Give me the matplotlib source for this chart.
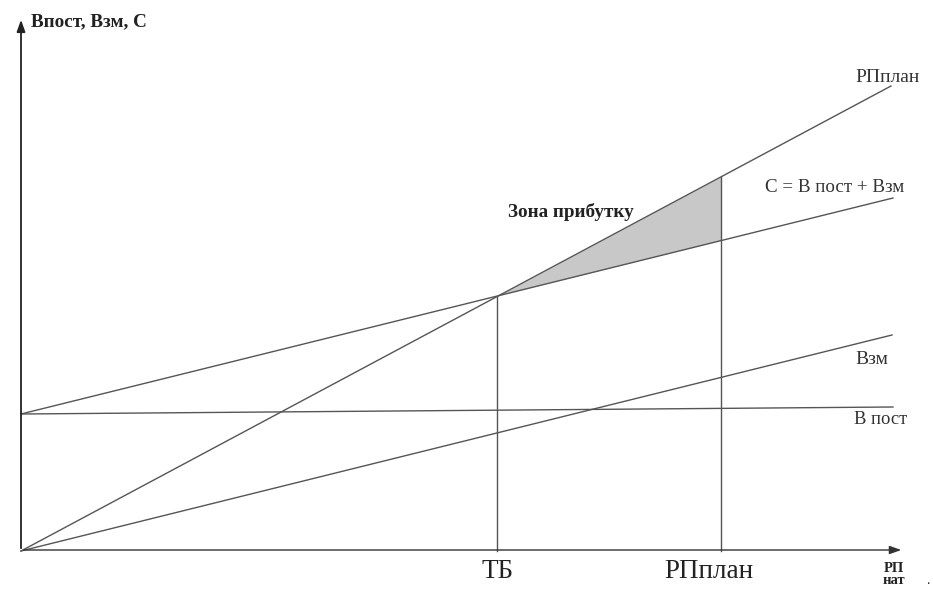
import matplotlib
matplotlib.use("Agg")
import matplotlib.pyplot as plt
import numpy as np

# Break-even chart values (arbitrary units)
x_ends = [0, 870]
revenue = [0, 465]          # РПплан line
fixed_costs = [137, 144]    # В пост
variable_costs = [0, 216]   # Взм
total_costs = [137, 353]    # C = В пост + Взм
q_tb = 476                  # break-even point
q_plan = 700                # planned volume

x_tick_labels = ["ТБ", "РПплан"]

def interp(x, ys):
    return np.interp(x, x_ends, ys)

fig = plt.figure(figsize=(9.33, 5.90), dpi=100)
ax = fig.add_axes([0, 0, 1, 1])
ax.set_xlim(-21, 912)
ax.set_ylim(-39, 551)
ax.axis("off")

lc = "#555555"
lw = 1.0
serif = ["Liberation Serif", "DejaVu Serif"]

# axes with arrows
ax.annotate("", xy=(0, 534), xytext=(0, 0),
            arrowprops=dict(arrowstyle="-|>,head_length=0.7,head_width=0.25", color="#222222", lw=1.3))
ax.annotate("", xy=(883, 1), xytext=(0, 1),
            arrowprops=dict(arrowstyle="-|>,head_length=0.7,head_width=0.25", color="#333333", lw=1.0))

# profit zone
xs = np.array([q_tb, q_plan])
ax.fill_between(xs, interp(xs, total_costs), interp(xs, revenue), color="#c8c8c8", lw=0)

# lines
ax.plot(x_ends, revenue, color=lc, lw=lw)
ax.plot([0, 872], total_costs, color=lc, lw=lw)
ax.plot([0, 871], variable_costs, color=lc, lw=lw)
ax.plot([0, 872], fixed_costs, color=lc, lw=lw)

# verticals
ax.plot([q_tb, q_tb], [0, interp(q_tb, revenue)], color=lc, lw=lw)
ax.plot([q_plan, q_plan], [0, interp(q_plan, revenue)], color=lc, lw=lw)

# labels
ax.text(10, 529, "Впост, Взм, С", family=serif, fontweight="bold", fontsize=13.8,
        ha="left", va="center", color="#222222")
ax.text(867, 474, "РПплан", family=serif, fontsize=14, ha="center", va="center", color="#333333")
ax.text(814, 363, "C = В пост + Взм", family=serif, fontsize=13.7, ha="center", va="center", color="#333333")
ax.text(851, 192, "Взм", family=serif, fontsize=14, ha="center", va="center", color="#333333")
ax.text(860, 131, "В пост", family=serif, fontsize=13.3, ha="center", va="center", color="#333333")
ax.text(550, 339, "Зона прибутку", family=serif, fontweight="bold", fontsize=13.8,
        ha="center", va="center", color="#222222")
ax.text(477, -21, x_tick_labels[0], family=serif, fontsize=19.5, ha="center", va="center", color="#222222")
ax.text(688, -21, x_tick_labels[1], family=serif, fontsize=19.5, ha="center", va="center", color="#222222")
ax.text(873, -11, "РП\nнат", family=serif, fontweight="bold", fontsize=10.5, ha="center", va="top",
        color="#222222", linespacing=0.9)
ax.text(907, -30, ".", family=serif, fontsize=10, ha="center", va="center", color="#222222")

fig.savefig("out.png", dpi=100)
